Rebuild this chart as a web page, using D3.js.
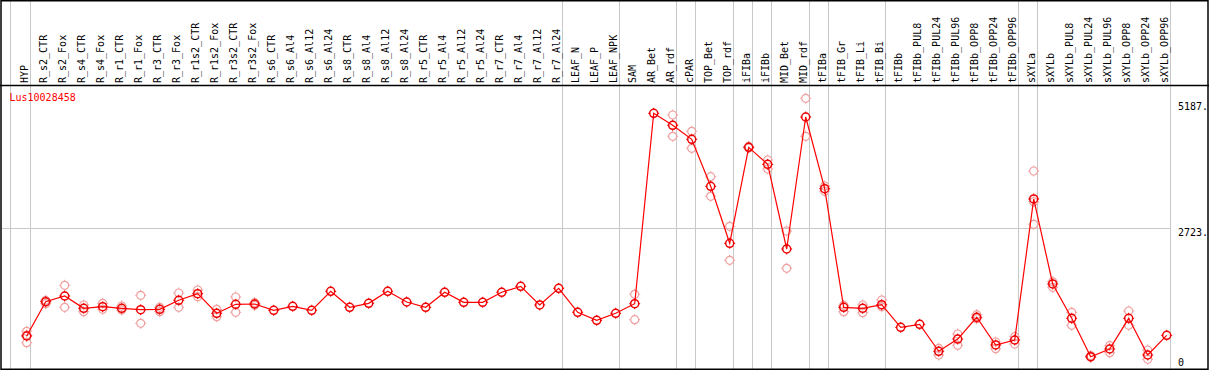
<!DOCTYPE html>
<html>
<head>
<meta charset="utf-8">
<script src="https://cdn.jsdelivr.net/npm/d3@7/dist/d3.min.js"></script>
<style>
  html, body { margin: 0; padding: 0; background: #fff; }
  svg text { font-family: "DejaVu Sans Mono", monospace; font-size: 10px; }
</style>
</head>
<body>
<svg id="chart" width="1209" height="370"></svg>
<script>
'use strict';

// Datos
var seriesName = "Lus10028458";

var categories = ["HYP", "R_s2_CTR", "R_s2_Fox", "R_s4_CTR", "R_s4_Fox", "R_r1_CTR", "R_r1_Fox",
  "R_r3_CTR", "R_r3_Fox", "R_r1s2_CTR", "R_r1s2_Fox", "R_r3s2_CTR", "R_r3s2_Fox", "R_s6_CTR",
  "R_s6_Al4", "R_s6_Al12", "R_s6_Al24", "R_s8_CTR", "R_s8_Al4", "R_s8_Al12", "R_s8_Al24",
  "R_r5_CTR", "R_r5_Al4", "R_r5_Al12", "R_r5_Al24", "R_r7_CTR", "R_r7_Al4", "R_r7_Al12", "R_r7_Al24",
  "LEAF_N", "LEAF_P", "LEAF_NPK", "SAM", "AR_Bet", "AR_rdf", "cPAR", "TOP_Bet", "TOP_rdf",
  "iFIBa", "iFIBb", "MID_Bet", "MID_rdf", "tFIBa", "tFIB_Gr", "tFIB_Li", "tFIB_Bi", "tFIBb",
  "tFIBb_PUL8", "tFIBb_PUL24", "tFIBb_PUL96", "tFIBb_OPP8", "tFIBb_OPP24", "tFIBb_OPP96",
  "sXYLa", "sXYLb", "sXYLb_PUL8", "sXYLb_PUL24", "sXYLb_PUL96", "sXYLb_OPP8", "sXYLb_OPP24", "sXYLb_OPP96"];

// media por muestra
var means = [512, 1215, 1331, 1079, 1112, 1079, 1050, 1058, 1243, 1378, 977, 1161, 1167, 1038,
  1120, 1038, 1427, 1099, 1181, 1427, 1208, 1099, 1407, 1202, 1202, 1407, 1529, 1147, 1488,
  997, 833, 977, 1173, 4897, 4670, 4404, 3513, 2410, 4253, 3930, 2293, 4827, 3468, 1099, 1079,
  1153, 690, 751, 199, 450, 895, 328, 430, 3273, 1577, 874, 88, 246, 874, 123, 526];

// réplicas individuales [muestra, valor]
var replicates = [
  ["HYP", 608], ["HYP", 375], ["HYP", 530],
  ["R_s2_CTR", 1240], ["R_s2_CTR", 1173],
  ["R_s2_Fox", 1550], ["R_s2_Fox", 1099],
  ["R_s4_CTR", 1147], ["R_s4_CTR", 1009],
  ["R_s4_Fox", 1181], ["R_s4_Fox", 1058],
  ["R_r1_CTR", 1126], ["R_r1_CTR", 1044],
  ["R_r1_Fox", 1345], ["R_r1_Fox", 772],
  ["R_r3_CTR", 1099], ["R_r3_CTR", 1009],
  ["R_r3_Fox", 1392], ["R_r3_Fox", 1099],
  ["R_r1s2_CTR", 1454], ["R_r1s2_CTR", 1316],
  ["R_r1s2_Fox", 1058], ["R_r1s2_Fox", 907],
  ["R_r3s2_CTR", 1310], ["R_r3s2_CTR", 997],
  ["R_r3s2_Fox", 1194], ["R_r3s2_Fox", 1140],
  ["SAM", 1366], ["SAM", 846],
  ["AR_rdf", 4865], ["AR_rdf", 4461],
  ["cPAR", 4556], ["cPAR", 4234],
  ["TOP_Bet", 3695], ["TOP_Bet", 3324],
  ["TOP_rdf", 2755], ["TOP_rdf", 2062],
  ["iFIBa", 4270], ["iFIBa", 4240],
  ["iFIBb", 4012], ["iFIBb", 3841],
  ["MID_Bet", 2662], ["MID_Bet", 1898],
  ["MID_rdf", 5181], ["MID_rdf", 4461],
  ["tFIBa", 3519], ["tFIBa", 3419],
  ["tFIB_Gr", 1140], ["tFIB_Gr", 1009],
  ["tFIB_Li", 1147], ["tFIB_Li", 989],
  ["tFIB_Bi", 1249], ["tFIB_Bi", 1112],
  ["tFIBb_PUL24", 260], ["tFIBb_PUL24", 123],
  ["tFIBb_PUL96", 553], ["tFIBb_PUL96", 321],
  ["tFIBb_OPP8", 948], ["tFIBb_OPP8", 866],
  ["tFIBb_OPP24", 389], ["tFIBb_OPP24", 252],
  ["tFIBb_OPP96", 498], ["tFIBb_OPP96", 348],
  ["sXYLa", 3803], ["sXYLa", 3221], ["sXYLa", 2793],
  ["sXYLb", 1624], ["sXYLb", 1509],
  ["sXYLb_PUL8", 997], ["sXYLb_PUL8", 731],
  ["sXYLb_PUL24", 109], ["sXYLb_PUL24", 76],
  ["sXYLb_PUL96", 313], ["sXYLb_PUL96", 170],
  ["sXYLb_OPP8", 1024], ["sXYLb_OPP8", 731],
  ["sXYLb_OPP24", 225], ["sXYLb_OPP24", 35]
];

// última muestra de cada grupo (líneas grises)
var groupEnds = ["HYP", "R_r7_Al24", "LEAF_NPK", "AR_rdf", "cPAR", "TOP_rdf", "iFIBa", "iFIBb",
  "MID_rdf", "tFIBa", "tFIB_Bi", "tFIBb_OPP96", "sXYLa", "sXYLb_OPP96"];

var yTicks = [5187, 2723, 0];
var yTickLabels = ["5187.", "2723.", "0"];

// Escalas
var W = 1209, H = 370;
var headerY = 85;
var x = d3.scaleBand().domain(categories).range([11.3, 11.3 + 19 * categories.length]).padding(0);
var px = function(c) { return x(c) + 15.4; };
var y = d3.scaleLinear().domain([0, 2723, 5187]).range([361, 228, 98]);

var svg = d3.select('#chart');
svg.append('rect').attr('width', W).attr('height', H).attr('fill', '#fff');

// líneas grises verticales
var vlines = [x(categories[0]) - 1].concat(groupEnds.map(function(c) { return x(c) + x.bandwidth(); }));
svg.selectAll('.vline').data(vlines).enter().append('line')
  .attr('x1', function(d) { return Math.round(d) + 0.5; })
  .attr('x2', function(d) { return Math.round(d) + 0.5; })
  .attr('y1', 0).attr('y2', H)
  .attr('stroke', '#c8c8c8').attr('stroke-width', 1);

// línea gris horizontal en 2723
svg.append('line')
  .attr('x1', 2).attr('x2', x(categories[categories.length - 1]) + x.bandwidth())
  .attr('y1', Math.round(y(2723)) + 0.5).attr('y2', Math.round(y(2723)) + 0.5)
  .attr('stroke', '#c8c8c8').attr('stroke-width', 1);

// etiquetas de cabecera
svg.selectAll('.cat').data(categories).enter().append('text')
  .attr('transform', function(d) { return 'translate(' + (px(d) + 1.5) + ',' + (headerY - 2) + ') rotate(-90)'; })
  .attr('fill', '#000')
  .text(function(d) { return d; });

// etiquetas del eje derecho
svg.selectAll('.ytick').data(yTicks).enter().append('text')
  .attr('x', 1178)
  .attr('y', function(d) { return Math.min(Math.max(y(d), 102.5), 358) + 7.5; })
  .attr('fill', '#000')
  .text(function(d, i) { return yTickLabels[i]; });

// nombre de la serie
svg.append('text').attr('x', 9.5).attr('y', 101).attr('fill', '#ff0000').text(seriesName);

// marcador circular con pequeñas muescas
function marker(g, color, sw) {
  g.append('circle').attr('r', 4).attr('fill', 'none').attr('stroke', color).attr('stroke-width', sw);
  [[0, -4, 0, -5.5], [0, 4, 0, 5.5], [-4, 0, -5.5, 0], [4, 0, 5.5, 0]].forEach(function(t) {
    g.append('line').attr('x1', t[0]).attr('y1', t[1]).attr('x2', t[2]).attr('y2', t[3])
      .attr('stroke', color).attr('stroke-width', 1);
  });
}

// réplicas
svg.selectAll('.rep').data(replicates).enter().append('g')
  .attr('transform', function(d) { return 'translate(' + px(d[0]) + ',' + y(d[1]) + ')'; })
  .each(function() { marker(d3.select(this), '#f0a0a0', 1.2); });

// línea de medias
var line = d3.line()
  .x(function(d, i) { return px(categories[i]); })
  .y(function(d) { return y(d); });
svg.append('path').datum(means)
  .attr('d', line).attr('fill', 'none').attr('stroke', '#ff0000').attr('stroke-width', 1.2);

svg.selectAll('.mean').data(means).enter().append('g')
  .attr('transform', function(d, i) { return 'translate(' + px(categories[i]) + ',' + y(d) + ')'; })
  .each(function() { marker(d3.select(this), '#ee0000', 1.5); });

// marco
svg.append('line').attr('x1', 0).attr('x2', W).attr('y1', headerY + 0.5).attr('y2', headerY + 0.5)
  .attr('stroke', '#000').attr('stroke-width', 1.5);
svg.append('rect').attr('x', 1).attr('y', 0.75).attr('width', W - 2).attr('height', H - 1.5)
  .attr('fill', 'none').attr('stroke', '#000').attr('stroke-width', 1.5);
</script>
</body>
</html>
